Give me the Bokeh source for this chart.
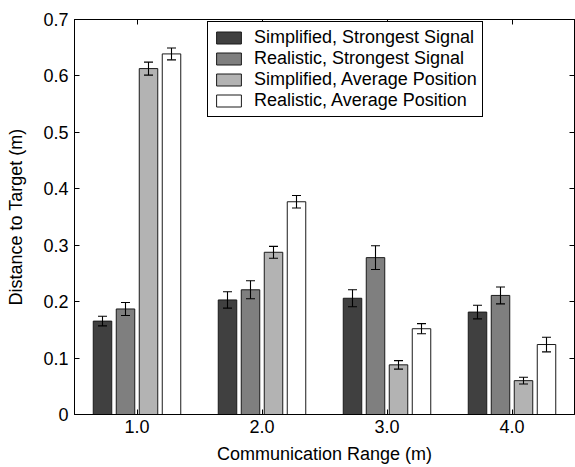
from bokeh.plotting import figure
from bokeh.models import (ColumnDataSource, Range1d, FixedTicker, LinearAxis,
                          Legend, LegendItem, Whisker, TeeHead)
from bokeh.transform import dodge
from bokeh.embed import file_html
from bokeh.resources import INLINE

# ---- data ----
ranges = [1.0, 2.0, 3.0, 4.0]
range_labels = ["1.0", "2.0", "3.0", "4.0"]
series_names = ["Simplified, Strongest Signal", "Realistic, Strongest Signal",
                "Simplified, Average Position", "Realistic, Average Position"]
simp_strong = [0.1655, 0.203, 0.206, 0.1815]
simp_strong_err = [0.0085, 0.0145, 0.015, 0.012]
real_strong = [0.187, 0.221, 0.278, 0.211]
real_strong_err = [0.0115, 0.016, 0.021, 0.015]
simp_avg = [0.613, 0.2875, 0.088, 0.060]
simp_avg_err = [0.0115, 0.0105, 0.0075, 0.006]
real_avg = [0.639, 0.377, 0.152, 0.124]
real_avg_err = [0.0105, 0.011, 0.009, 0.013]
y_ticks = [0, 0.1, 0.2, 0.3, 0.4, 0.5, 0.6, 0.7]
y_tick_labels = ["0", "0.1", "0.2", "0.3", "0.4", "0.5", "0.6", "0.7"]

values = [simp_strong, real_strong, simp_avg, real_avg]
errors = [simp_strong_err, real_strong_err, simp_avg_err, real_avg_err]
colors = ["#404040", "#7f7f7f", "#b3b3b3", "#ffffff"]
offsets = [-0.276, -0.092, 0.092, 0.276]
bar_w = 0.148

FONT = "Liberation Sans"
FS = "18px"

p = figure(width=575, height=467, output_backend="svg",
           toolbar_location=None, x_range=Range1d(0.5, 4.5),
           y_range=Range1d(0, 0.7), min_border_left=74, min_border_top=19,
           min_border_right=1, min_border_bottom=53)
p.xgrid.visible = False
p.ygrid.visible = False
p.outline_line_color = "black"
p.outline_line_alpha = 1.0
p.background_fill_color = "white"

items = []
for name, vals, errs, col, off in zip(series_names, values, errors, colors, offsets):
    src = ColumnDataSource(dict(x=ranges, top=vals,
                                upper=[v + e for v, e in zip(vals, errs)],
                                lower=[v - e for v, e in zip(vals, errs)]))
    r = p.vbar(x=dodge("x", off, range=p.x_range), top="top", bottom=0,
               width=bar_w, source=src, fill_color=col, line_color="#1a1a1a",
               line_width=1)
    w = Whisker(base=dodge("x", off, range=p.x_range), upper="upper", lower="lower",
                source=src, line_color="black", line_width=1.1, level="overlay",
                upper_head=TeeHead(size=9, line_color="black", line_width=1.1),
                lower_head=TeeHead(size=9, line_color="black", line_width=1.1))
    p.add_layout(w)
    items.append(LegendItem(label=name, renderers=[r]))

def style_axis(ax, fs=FS):
    ax.major_tick_in = 5
    ax.major_tick_out = 0
    ax.minor_tick_in = 0
    ax.minor_tick_out = 0
    ax.axis_line_color = "black"
    ax.major_tick_line_color = "black"
    ax.major_label_text_font = FONT
    ax.major_label_text_font_size = fs
    ax.major_label_text_color = "black"
    ax.axis_label_text_font = FONT
    ax.axis_label_text_font_size = FS
    ax.axis_label_text_font_style = "normal"
    ax.axis_label_text_color = "black"

x_overrides = {r: l for r, l in zip(ranges, range_labels)}
y_overrides = {t: l for t, l in zip(y_ticks, y_tick_labels)}

p.xaxis.ticker = FixedTicker(ticks=ranges)
p.xaxis.major_label_overrides = x_overrides
p.xaxis.axis_label = "Communication Range (m)"
style_axis(p.xaxis[0])
p.xaxis.major_label_standoff = 5
p.xaxis.axis_label_standoff = 8

p.yaxis.ticker = FixedTicker(ticks=y_ticks)
p.yaxis.major_label_overrides = y_overrides
p.yaxis.axis_label = "Distance to Target (m)"
style_axis(p.yaxis[0])
p.yaxis.major_label_standoff = 6
p.yaxis.axis_label_standoff = 14

# tick marks only (no labels) on the top and right edges
top_ax = LinearAxis(ticker=FixedTicker(ticks=ranges), major_label_standoff=0,
                    major_label_overrides={r: "" for r in ranges})
style_axis(top_ax, fs="1px")
p.add_layout(top_ax, "above")
right_ax = LinearAxis(ticker=FixedTicker(ticks=y_ticks), major_label_standoff=0,
                      major_label_overrides={t: "" for t in y_ticks})
style_axis(right_ax, fs="1px")
p.add_layout(right_ax, "right")

legend = Legend(items=items, location=(133, 297))
legend.border_line_color = "black"
legend.border_line_width = 1
legend.border_line_alpha = 1
legend.background_fill_alpha = 1
legend.label_text_font = FONT
legend.label_text_font_size = FS
legend.label_text_color = "black"
legend.glyph_width = 31
legend.glyph_height = 15
legend.label_height = 20
legend.label_standoff = 10
legend.spacing = 0
legend.padding = 5
legend.margin = 0
p.add_layout(legend)

open("out.html", "w").write(file_html(p, INLINE))
